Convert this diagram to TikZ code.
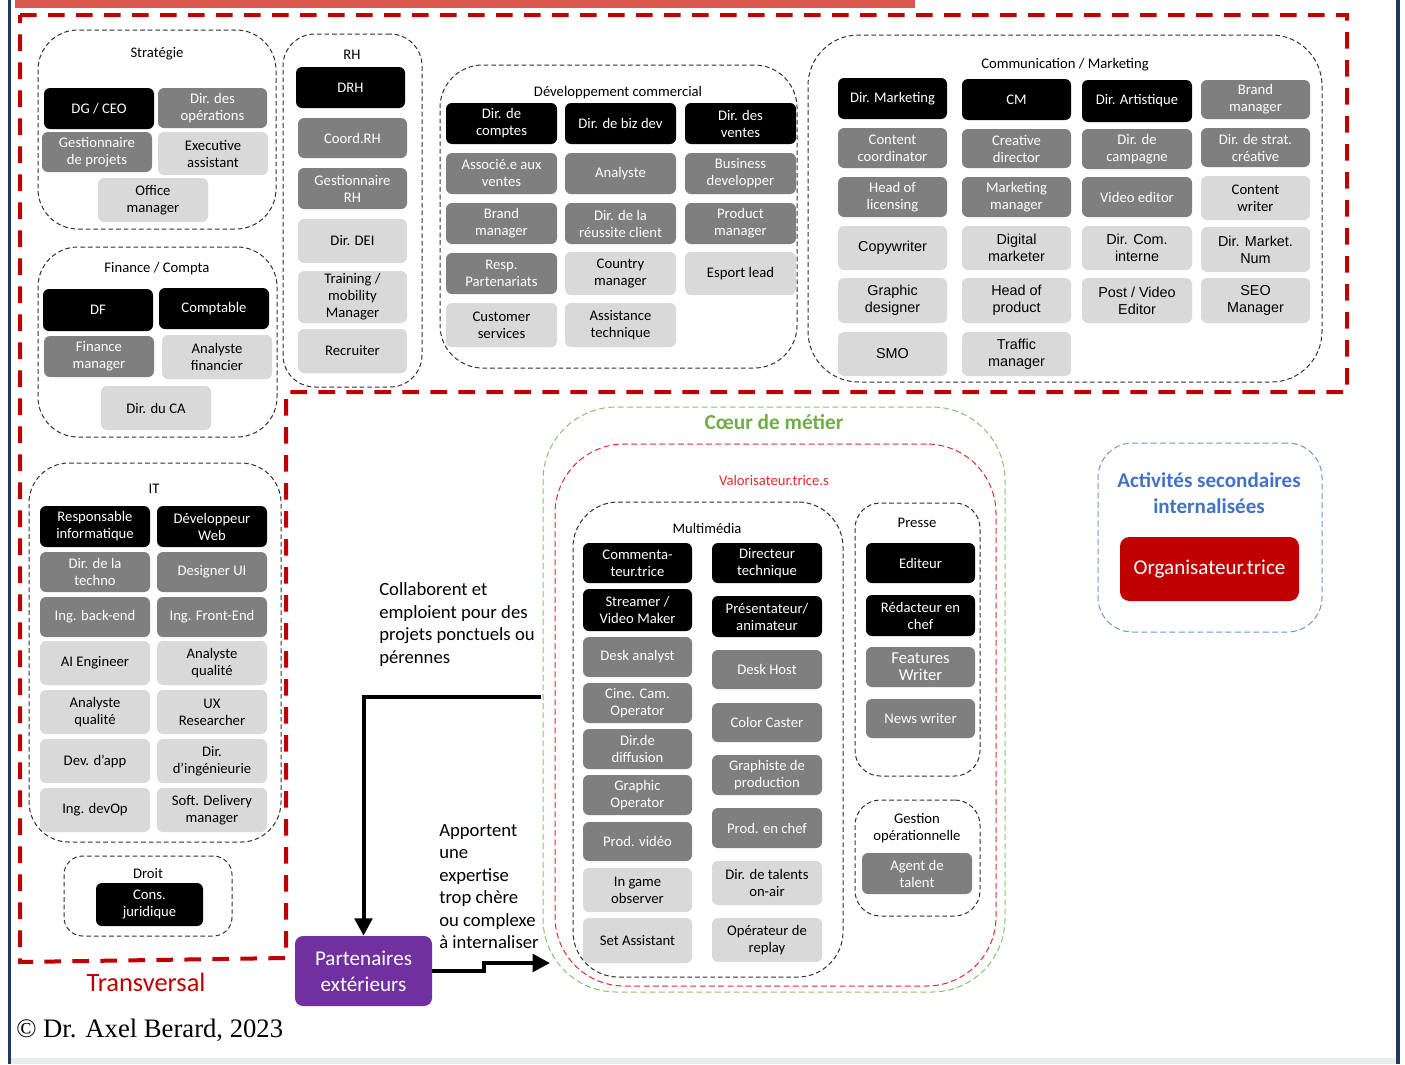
\documentclass[tikz,border=0pt]{standalone}
\usepackage{fontspec}
\setmainfont{Carlito}
\newfontfamily\arialf{Liberation Sans}
\newfontfamily\timesf{Liberation Serif}
\usetikzlibrary{arrows.meta}

\definecolor{navy}{RGB}{32,56,100}
\definecolor{topbar}{RGB}{217,87,77}
\definecolor{tred}{RGB}{192,0,0}
\definecolor{dkgray}{RGB}{127,127,127}
\definecolor{ltgray}{RGB}{217,217,217}
\definecolor{grpline}{RGB}{50,50,50}
\definecolor{coeurgreen}{RGB}{112,173,71}
\definecolor{coeurline}{RGB}{140,195,105}
\definecolor{valred}{RGB}{225,45,45}
\definecolor{secblue}{RGB}{68,114,196}
\definecolor{secline}{RGB}{110,150,215}
\definecolor{purp}{RGB}{112,48,160}
\definecolor{footband}{RGB}{234,236,242}

\tikzset{
  role/.style={rounded corners=4.5pt, inner sep=1pt, align=center,
    font=\fontsize{11}{12.75}\selectfont},
  blk/.style={role, fill=black, text=white},
  drk/.style={role, fill=dkgray, text=white},
  lgt/.style={role, fill=ltgray, text=black},
  lgta/.style={lgt, font=\arialf\fontsize{10.8}{12.75}\selectfont},
  grp/.style={draw=grpline, dash pattern=on 3.5pt off 2.2pt, line width=0.75pt},
  grpgreen/.style={draw=coeurline, dash pattern=on 4.5pt off 2.5pt, line width=0.75pt},
  grpred/.style={draw=valred, dash pattern=on 4.5pt off 2.5pt, line width=0.75pt},
  grpblue/.style={draw=secline, dash pattern=on 4.5pt off 2.5pt, line width=0.75pt},
  gtitle/.style={inner sep=0pt, align=center, font=\fontsize{11}{12.75}\selectfont},
  note/.style={inner sep=0pt, align=left, font=\fontsize{14}{16.9}\selectfont},
  transv/.style={draw=tred, line width=3pt, dash pattern=on 12.5pt off 8.5pt},
  flow/.style={draw=black, line width=3pt, line join=miter,
    -{Triangle[length=13pt,width=13pt]}},
}

% role box given by its corners in pixel units
\newcommand\rolebox[7]{\node[#2, minimum width={(#5-#3)*0.75pt},
  minimum height={(#6-#4)*0.75pt}] (#1) at ({(#3+#5)/2},{(#4+#6)/2}) {#7};}
% dashed group frame given by its corners
\newcommand\grpbox[7]{\node[#2, rounded corners=#3, inner sep=0pt,
  minimum width={(#6-#4)*0.75pt}, minimum height={(#7-#5)*0.75pt}]
  (#1) at ({(#4+#6)/2},{(#5+#7)/2}) {};}

\begin{document}
\begin{tikzpicture}[x=0.75pt, y=-0.75pt]
\useasboundingbox (0,0) rectangle (1405,1064);
\fill[white] (0,0) rectangle (1405,1064);

% page frame
\fill[footband] (11,1058) rectangle (1396,1064);
\fill[navy] (8,0) rectangle (11,1064);
\fill[navy] (1396,0) rectangle (1400,1064);
\fill[topbar] (15,0) rectangle (915,8);

% transversal area
\draw[transv] (20,15) -- (1347,15) -- (1347,392) -- (286,392)
  -- (286,958) -- (20,962) -- cycle;
\node[inner sep=0pt, text=tred, font=\fontsize{19.8}{22}\selectfont] (transvlbl) at (146,982) {Transversal};

% ---------- Stratégie ----------
\grpbox{gstrat}{grp}{30pt}{38}{30}{276}{229}
\node[gtitle] (tstrat) at (157,54) {Stratégie};
\rolebox{dg}{blk}{44}{88}{154}{129}{DG / CEO}
\rolebox{dirop}{drk}{158}{88}{267}{128}{Dir. des\\opérations}
\rolebox{gestp}{drk}{42}{132}{152}{172}{Gestionnaire\\de projets}
\rolebox{exec}{lgt}{158}{132}{268}{175}{Executive\\assistant}
\rolebox{office}{lgt}{98}{178}{208}{222}{Office\\manager}

% ---------- RH ----------
\grpbox{grh}{grp}{24pt}{283}{34}{422}{387}
\node[gtitle] (trh) at (352,55) {RH};
\rolebox{drh}{blk}{296}{67}{405}{108}{DRH}
\rolebox{coordrh}{drk}{298}{118}{407}{158}{Coord.RH}
\rolebox{gestrh}{drk}{298}{168}{407}{209}{Gestionnaire\\RH}
\rolebox{dei}{lgt}{298}{219}{407}{263}{Dir. DEI}
\rolebox{training}{lgt}{298}{271}{407}{323}{Training /\\mobility\\Manager}
\rolebox{recruit}{lgt}{298}{329}{407}{373}{Recruiter}

% ---------- Finance ----------
\grpbox{gfin}{grp}{30pt}{38}{247}{277}{437}
\node[gtitle] (tfin) at (157,269) {Finance / Compta};
\rolebox{df}{blk}{43}{289}{153}{331}{DF}
\rolebox{compta}{blk}{159}{288}{269}{329}{Comptable}
\rolebox{finman}{drk}{44}{336}{154}{377}{Finance\\manager}
\rolebox{anafin}{lgt}{162}{335}{272}{379}{Analyste\\financier}
\rolebox{dirca}{lgt}{101}{386}{211}{430}{Dir. du CA}

% ---------- Développement commercial ----------
\grpbox{gdev}{grp}{32pt}{440}{65}{797}{368}
\node[gtitle] (tdev) at (618,93) {Développement commercial};
\rolebox{dircpt}{blk}{446}{103}{557}{144}{Dir. de\\comptes}
\rolebox{dirbiz}{blk}{565}{103}{676}{144}{Dir. de biz dev}
\rolebox{dirvente}{blk}{685}{103}{796}{144}{Dir. des\\ventes}
\rolebox{assoc}{drk}{446}{153}{557}{194}{Associé.e aux\\ventes}
\rolebox{analyste}{drk}{565}{153}{676}{194}{Analyste}
\rolebox{bizdev}{drk}{685}{153}{796}{194}{Business\\developper}
\rolebox{brandc}{drk}{446}{203}{557}{244}{Brand\\manager}
\rolebox{reussite}{drk}{565}{203}{676}{244}{Dir. de la\\réussite client}
\rolebox{prodman}{drk}{685}{203}{796}{244}{Product\\manager}
\rolebox{resppart}{drk}{446}{253}{557}{294}{Resp.\\Partenariats}
\rolebox{country}{lgt}{565}{252}{676}{295}{Country\\manager}
\rolebox{esport}{lgt}{685}{252}{796}{295}{Esport lead}
\rolebox{custserv}{lgt}{446}{303}{557}{347}{Customer\\services}
\rolebox{assist}{lgt}{565}{303}{676}{347}{Assistance\\technique}

% ---------- Communication / Marketing ----------
\grpbox{gcom}{grp}{38pt}{808}{35}{1322}{382}
\node[gtitle] (tcom) at (1065,65) {Communication / Marketing};
\rolebox{dirmkt}{blk}{838}{78}{947}{119}{Dir. Marketing}
\rolebox{cm}{blk}{962}{79}{1071}{120}{CM}
\rolebox{dirart}{blk}{1082}{80}{1192}{122}{Dir. Artistique}
\rolebox{brandm}{drk}{1201}{80}{1310}{119}{Brand\\manager}
\rolebox{contcoord}{drk}{838}{128}{947}{168}{Content\\coordinator}
\rolebox{creadir}{drk}{962}{129}{1071}{168}{Creative\\director}
\rolebox{dircamp}{drk}{1082}{129}{1192}{169}{Dir. de\\campagne}
\rolebox{dirstrat}{drk}{1201}{128}{1310}{167}{Dir. de strat.\\créative}
\rolebox{headlic}{drk}{838}{177}{947}{217}{Head of\\licensing}
\rolebox{mktman}{drk}{962}{177}{1071}{217}{Marketing\\manager}
\rolebox{videoed}{drk}{1082}{177}{1192}{217}{Video editor}
\rolebox{contwr}{lgt}{1201}{176}{1310}{220}{Content\\writer}
\rolebox{copyw}{lgta}{838}{226}{947}{270}{Copywriter}
\rolebox{digmkt}{lgta}{962}{226}{1071}{270}{Digital\\marketer}
\rolebox{dircom}{lgta}{1082}{226}{1192}{270}{Dir. Com.\\interne}
\rolebox{dirnum}{lgta}{1201}{227}{1310}{272}{Dir. Market.\\Num}
\rolebox{graphd}{lgta}{838}{278}{947}{323}{Graphic\\designer}
\rolebox{headprod}{lgta}{962}{278}{1071}{323}{Head of\\product}
\rolebox{postvid}{lgta}{1082}{278}{1192}{323}{Post / Video\\Editor}
\rolebox{seo}{lgta}{1201}{278}{1310}{323}{SEO\\Manager}
\rolebox{smo}{lgta}{838}{332}{947}{376}{SMO}
\rolebox{traffic}{lgta}{962}{332}{1071}{376}{Traffic\\manager}

% ---------- IT ----------
\grpbox{git}{grp}{30pt}{29}{463}{281}{842}
\node[gtitle] (tit) at (154,489) {IT};
\rolebox{respinfo}{blk}{40}{506}{150}{547}{Responsable\\informatique}
\rolebox{devweb}{blk}{157}{506}{267}{547}{Développeur\\Web}
\rolebox{dirtech}{drk}{40}{552}{150}{592}{Dir. de la\\techno}
\rolebox{designui}{drk}{157}{552}{267}{592}{Designer UI}
\rolebox{backend}{drk}{40}{597}{150}{637}{Ing. back-end}
\rolebox{frontend}{drk}{157}{597}{267}{637}{Ing. Front-End}
\rolebox{aieng}{lgt}{40}{641}{150}{685}{AI Engineer}
\rolebox{anaqa}{lgt}{157}{641}{267}{685}{Analyste\\qualité}
\rolebox{anaqb}{lgt}{40}{690}{150}{734}{Analyste\\qualité}
\rolebox{uxres}{lgt}{157}{690}{267}{734}{UX\\Researcher}
\rolebox{devapp}{lgt}{40}{739}{150}{783}{Dev. d’app}
\rolebox{diring}{lgt}{157}{739}{267}{783}{Dir.\\d’ingénieurie}
\rolebox{devop}{lgt}{40}{788}{150}{832}{Ing. devOp}
\rolebox{softdel}{lgt}{157}{788}{267}{832}{Soft. Delivery\\manager}

% ---------- Droit ----------
\grpbox{gdroit}{grp}{14pt}{64}{856}{232}{936}
\node[gtitle] (tdroit) at (148,873) {Droit};
\rolebox{consjur}{blk}{96}{883}{203}{926}{Cons.\\juridique}

% ---------- Cœur de métier ----------
\grpbox{gcoeur}{grpgreen}{55pt}{543}{407}{1005}{992}
\node[inner sep=0pt, text=coeurgreen, font=\bfseries\fontsize{16}{19}\selectfont] (tcoeur) at (774,422) {Cœur de métier};
\grpbox{gvalo}{grpred}{52pt}{555}{444}{996}{986}
\node[inner sep=0pt, text=valred, font=\fontsize{11}{13}\selectfont] (tvalo) at (774,480) {Valorisateur.trice.s};

% Multimédia
\grpbox{gmulti}{grp}{34pt}{573}{502}{843}{977}
\node[gtitle] (tmulti) at (707,528) {Multimédia};
\rolebox{comment}{blk}{583}{543}{692}{583}{Commenta-\\teur.trice}
\rolebox{dirtechn}{blk}{712}{543}{822}{583}{Directeur\\technique}
\rolebox{streamer}{blk}{583}{589}{692}{631}{Streamer /\\Video Maker}
\rolebox{present}{blk}{712}{596}{822}{637}{Présentateur/\\animateur}
\rolebox{deskan}{drk}{583}{637}{692}{677}{Desk analyst}
\rolebox{deskhost}{drk}{712}{650}{822}{689}{Desk Host}
\rolebox{cinecam}{drk}{583}{683}{692}{723}{Cine. Cam.\\Operator}
\rolebox{colorc}{drk}{712}{703}{822}{742}{Color Caster}
\rolebox{dirdiff}{drk}{583}{729}{692}{769}{Dir.de\\diffusion}
\rolebox{graphprod}{drk}{712}{755}{822}{795}{Graphiste de\\production}
\rolebox{graphop}{drk}{583}{775}{692}{815}{Graphic\\Operator}
\rolebox{prodchef}{drk}{712}{808}{822}{848}{Prod. en chef}
\rolebox{prodvid}{drk}{583}{822}{692}{861}{Prod. vidéo}
\rolebox{ingame}{lgt}{583}{868}{692}{912}{In game\\observer}
\rolebox{dirtal}{lgt}{712}{861}{822}{905}{Dir. de talents\\on-air}
\rolebox{setass}{lgt}{583}{918}{692}{963}{Set Assistant}
\rolebox{oprep}{lgt}{712}{918}{822}{962}{Opérateur de\\replay}

% Presse
\grpbox{gpresse}{grp}{19pt}{855}{503}{980}{776}
\node[gtitle] (tpresse) at (917,523) {Presse};
\rolebox{editeur}{blk}{866}{543}{975}{583}{Editeur}
\rolebox{redac}{blk}{866}{595}{975}{636}{Rédacteur en\\chef}
\rolebox{features}{drk, font=\fontsize{12.5}{12.75}\selectfont}{866}{647}{975}{687}{Features\\Writer}
\rolebox{newsw}{drk}{866}{699}{975}{738}{News writer}

% Gestion opérationnelle
\grpbox{ggest}{grp}{19pt}{855}{800}{980}{916}
\node[gtitle] (tgest) at (917,828) {Gestion\\opérationnelle};
\rolebox{agent}{drk}{862}{853}{972}{894}{Agent de\\talent}

% ---------- Activités secondaires ----------
\grpbox{gsec}{grpblue}{26pt}{1098}{443}{1322}{632}
\node[inner sep=0pt, align=center, text=secblue, font=\bfseries\fontsize{15.8}{19.5}\selectfont] (tsec) at (1209,493) {Activités secondaires\\internalisées};
\node[rounded corners=7pt, fill=tred, text=white, font=\fontsize{15.8}{18}\selectfont,
  minimum width={179*0.75pt}, minimum height={64*0.75pt}] (organis) at (1209.5,569) {Organisateur.trice};

% ---------- Partenaires extérieurs ----------
\node[rounded corners=6pt, fill=purp, text=white, align=center, inner sep=0pt,
  font=\fontsize{15.8}{19.5}\selectfont,
  minimum width={137*0.75pt}, minimum height={70*0.75pt}] (part) at (363.5,971) {Partenaires\\extérieurs};

\node[note, anchor=west] (collab) at (379,624.5) {Collaborent et\\emploient pour des\\projets ponctuels ou\\pérennes};
\node[note, anchor=west] (apport) at (439,886.5) {Apportent\\une\\expertise\\trop chère\\ou complexe\\à internaliser};

% connectors
\coordinate (srcA) at (541,697);
\coordinate (tipB) at (550,963);
\draw[flow] (srcA) -| (part.north);
\draw[flow] (part.east) -- ++(52,0) |- (tipB);

% credit line
\node[inner sep=0pt, anchor=west, font=\timesf\fontsize{20}{22}\selectfont] (credit) at (16,1030) {© Dr. Axel Berard, 2023};
\end{tikzpicture}
\end{document}
